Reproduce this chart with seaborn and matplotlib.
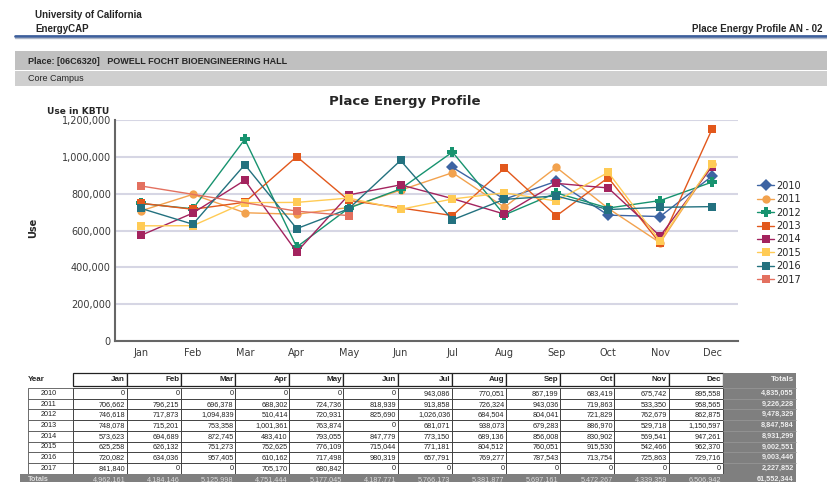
import numpy as np
import pandas as pd
import matplotlib
matplotlib.use("Agg")
import matplotlib.pyplot as plt
from matplotlib.colors import same_color
from matplotlib.patches import Rectangle
from matplotlib.ticker import FuncFormatter, MultipleLocator
import seaborn as sns

months = ["Jan", "Feb", "Mar", "Apr", "May", "Jun",
          "Jul", "Aug", "Sep", "Oct", "Nov", "Dec"]
years = ["2010", "2011", "2012", "2013", "2014", "2015", "2016", "2017"]

# monthly use in KBTU, read from the report table (0 = no data)
use_2010 = [0, 0, 0, 0, 0, 0, 943086, 770051, 867199, 683419, 675742, 895558]
use_2011 = [706662, 796215, 696378, 688302, 724736, 818939, 913858, 726324, 943036, 719863, 533350, 958565]
use_2012 = [746618, 717873, 1094839, 510414, 720931, 825690, 1026036, 684504, 804041, 721829, 762679, 862875]
use_2013 = [748078, 715201, 753358, 1001361, 763874, 0, 681071, 938073, 679283, 886970, 529718, 1150597]
use_2014 = [573623, 694689, 872745, 483410, 793055, 847779, 773150, 689136, 856008, 830902, 569541, 947261]
use_2015 = [625258, 626132, 751273, 752625, 776109, 715044, 771181, 804512, 760051, 915530, 542466, 962370]
use_2016 = [720082, 634036, 957405, 610162, 717498, 980319, 657791, 769277, 787543, 713754, 725863, 729716]
use_2017 = [841840, 0, 0, 705170, 680842, 0, 0, 0, 0, 0, 0, 0]

series = dict(zip(years, [use_2010, use_2011, use_2012, use_2013,
                          use_2014, use_2015, use_2016, use_2017]))

palette = {"2010": "#3d64a3", "2011": "#f2a24e", "2012": "#17936f", "2013": "#e2581c",
           "2014": "#a3235e", "2015": "#ffcb55", "2016": "#23717f", "2017": "#e3705f"}
marker_map = {"2010": "D", "2011": "o", "2012": "P", "2013": "s",
              "2014": "s", "2015": "s", "2016": "s", "2017": "s"}

rows = []
for yr, vals in series.items():
    for i, v in enumerate(vals):
        if v > 0:
            rows.append({"year": yr, "month": i, "use": v})
df = pd.DataFrame(rows)

sns.set_theme(style="white")
plt.rcParams["font.family"] = ["DejaVu Sans"]
narrow = ["Liberation Sans Narrow", "Liberation Sans"]

W, H = 827, 482
fig = plt.figure(figsize=(W / 100, H / 100), dpi=100)

# page overlay in pixel units
page = fig.add_axes([0, 0, 1, 1])
page.set_xlim(0, W)
page.set_ylim(H, 0)
page.axis("off")

page.text(35, 15, "University of California", fontsize=7, weight="bold", family=narrow, va="center")
page.text(35, 29, "EnergyCAP", fontsize=7, weight="bold", family=narrow, va="center")
page.text(822, 29, "Place Energy Profile AN - 02", fontsize=7, weight="bold", family=narrow,
          va="center", ha="right")
page.plot([15, W], [36, 36], color="#3d5f9c", lw=2)
page.plot([15, W], [38, 38], color="#b0b8c8", lw=1)

page.add_patch(Rectangle((15, 51), W - 15, 19, fc="#c0c0c0", ec="none"))
page.add_patch(Rectangle((15, 71), W - 15, 15, fc="#cfcfcf", ec="none"))
page.text(28, 61, "Place: [06C6320]   POWELL FOCHT BIOENGINEERING HALL", fontsize=6.5,
          weight="bold", family=narrow, va="center")
page.text(28, 78.5, "Core Campus", fontsize=6.5, family=narrow, va="center")

page.text(405, 101, "Place Energy Profile", fontsize=9.5, weight="bold", ha="center", va="center")
page.text(47, 111, "Use in KBTU", fontsize=6.5, weight="bold", va="center")
page.text(33, 228, "Use", fontsize=7, weight="bold", rotation=90, ha="center", va="center")

# chart
ax = fig.add_axes([115 / W, 1 - 341 / H, (738 - 115) / W, (341 - 120) / H])
sns.lineplot(data=df, x="month", y="use", hue="year", style="year",
             palette=palette, markers=marker_map, dashes=False,
             markersize=6, markeredgewidth=0, linewidth=1, ax=ax)
for ln in ax.lines:
    if same_color(ln.get_color(), palette["2012"]):
        ln.set_markersize(7.5)
ax.set_xlim(-0.5, 11.5)
ax.set_xticks(range(12))
ax.set_xticklabels(months)
ax.set_ylim(0, 1200000)
ax.yaxis.set_major_locator(MultipleLocator(200000))
ax.yaxis.set_major_formatter(FuncFormatter(lambda v, p: f"{int(v):,}"))
ax.grid(axis="y", color="#d6d6e4", lw=1.5)
ax.set_axisbelow(True)
ax.set_xlabel("")
ax.set_ylabel("")
for s in ["top", "right"]:
    ax.spines[s].set_visible(False)
for s in ["left", "bottom"]:
    ax.spines[s].set_color("#666666")
    ax.spines[s].set_linewidth(1.5)
ax.tick_params(length=0, labelsize=7, colors="#3a3a3a")
ax.tick_params(axis="x", pad=5)
ax.tick_params(axis="y", pad=3)
ax.patch.set_alpha(0)

handles, labels = ax.get_legend_handles_labels()
ax.legend(handles, labels, loc="upper left", bbox_to_anchor=(752 / W, 1 - 176 / H),
          bbox_transform=fig.transFigure, frameon=False, fontsize=7,
          labelspacing=0.35, handlelength=1.8, handletextpad=0.2, borderpad=0)

# data table
col_w = 54.18
first_right = 126.7
head_top, head_h = 373, 13
row_top, row_h = 388, 10.7
tot_left, tot_right = 722.7, 795.7
tfs = 5.2

page.text(28, head_top + head_h / 2, "Year", fontsize=5.8, weight="bold", family=narrow, va="center")
for j, m in enumerate(months):
    right = first_right + col_w * j
    page.add_patch(Rectangle((right - col_w, head_top), col_w, head_h, fc="white", ec="#222222", lw=0.9))
    page.text(right - 1.5, head_top + head_h / 2, m, fontsize=5.8, weight="bold", family=narrow,
              ha="right", va="center")
page.add_patch(Rectangle((tot_left, head_top), tot_right - tot_left, 110, fc="#7f7f7f", ec="none"))
page.text(tot_right - 2, head_top + head_h / 2, "Totals", fontsize=5.8, weight="bold", family=narrow,
          color="#f0f0f0", ha="right", va="center")

for r, yr in enumerate(years):
    top = row_top + row_h * r
    cy = top + row_h / 2
    page.add_patch(Rectangle((28, top), 44.7, row_h, fc="white", ec="#555555", lw=0.6))
    page.text(49, cy, yr, fontsize=tfs, family=narrow, ha="center", va="center", color="#222222")
    vals = series[yr]
    for j, v in enumerate(vals):
        right = first_right + col_w * j
        page.add_patch(Rectangle((right - col_w, top), col_w, row_h, fc="white", ec="#333333", lw=0.6))
        page.text(right - 1.5, cy, f"{v:,}", fontsize=tfs, family=narrow, ha="right", va="center",
                  color="#222222")
    page.plot([tot_left, tot_right], [top, top], color="#999999", lw=0.5)
    page.text(tot_right - 2, cy, f"{sum(vals):,}", fontsize=tfs, weight="bold", family=narrow,
              ha="right", va="center", color="#eeeeee")

tot_top = row_top + row_h * len(years)
page.add_patch(Rectangle((20, tot_top), tot_right - 20, 12, fc="#7f7f7f", ec="none"))
page.text(28, tot_top + 5.5, "Totals", fontsize=tfs, weight="bold", family=narrow, va="center",
          color="#dddddd")
month_totals = [sum(series[yr][j] for yr in years) for j in range(12)]
for j, t in enumerate(month_totals):
    right = first_right + col_w * j
    page.text(right - 1.5, tot_top + 5.5, f"{t:,}", fontsize=tfs, family=narrow, ha="right",
              va="center", color="#dddddd")
page.text(tot_right - 2, tot_top + 5.5, f"{sum(month_totals):,}", fontsize=tfs, weight="bold",
          family=narrow, ha="right", va="center", color="#eeeeee")

fig.savefig("out.png", dpi=100)
